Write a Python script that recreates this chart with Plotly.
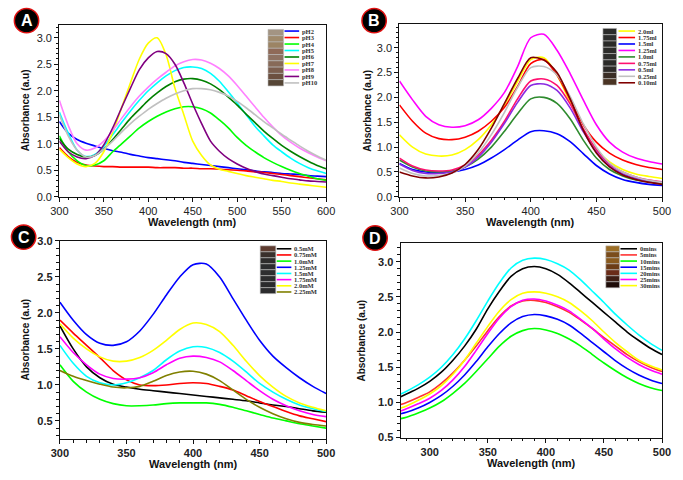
import plotly.graph_objects as go

# ---------------- Panel A data (pH) ----------------
wl_a = list(range(300, 601, 10))
ph_labels = ["pH2", "pH3", "pH4", "pH5", "pH6", "pH7", "pH8", "pH9", "pH10"]
ph2 = [1.42, 1.2, 1.08, 1.01, 0.96, 0.91, 0.87, 0.84, 0.80, 0.77, 0.74, 0.72, 0.70, 0.68, 0.65, 0.63, 0.61, 0.59, 0.57, 0.55, 0.53, 0.51, 0.49, 0.47, 0.46, 0.44, 0.43, 0.42, 0.40, 0.39, 0.38]
ph3 = [0.93, 0.76, 0.65, 0.6, 0.58, 0.57, 0.57, 0.56, 0.56, 0.56, 0.56, 0.55, 0.55, 0.55, 0.54, 0.54, 0.53, 0.53, 0.52, 0.51, 0.50, 0.49, 0.47, 0.46, 0.44, 0.42, 0.40, 0.38, 0.36, 0.34, 0.32]
ph4 = [1.15, 0.85, 0.68, 0.59, 0.6, 0.68, 0.85, 1.0, 1.15, 1.3, 1.42, 1.52, 1.6, 1.66, 1.7, 1.7, 1.66, 1.58, 1.45, 1.3, 1.12, 0.97, 0.85, 0.74, 0.65, 0.57, 0.5, 0.44, 0.39, 0.34, 0.31]
ph5 = [1.6, 1.2, 0.88, 0.76, 0.8, 0.95, 1.17, 1.4, 1.62, 1.82, 2.0, 2.15, 2.28, 2.38, 2.44, 2.45, 2.42, 2.33, 2.18, 1.98, 1.77, 1.55, 1.33, 1.15, 0.98, 0.85, 0.73, 0.63, 0.55, 0.49, 0.44]
ph6 = [1.1, 0.9, 0.8, 0.75, 0.78, 0.9, 1.08, 1.28, 1.48, 1.65, 1.82, 1.96, 2.08, 2.17, 2.22, 2.23, 2.2, 2.13, 2.02, 1.88, 1.73, 1.56, 1.4, 1.24, 1.1, 0.97, 0.86, 0.76, 0.67, 0.59, 0.53]
ph7 = [0.9, 0.74, 0.62, 0.57, 0.63, 0.85, 1.22, 1.68, 2.15, 2.6, 2.9, 3.0, 2.68, 2.05, 1.55, 1.05, 0.78, 0.6, 0.52, 0.48, 0.44, 0.4, 0.37, 0.34, 0.31, 0.29, 0.26, 0.24, 0.22, 0.2, 0.18]
ph8 = [1.82, 1.35, 1.0, 0.88, 0.92, 1.05, 1.25, 1.48, 1.7, 1.9, 2.07, 2.22, 2.35, 2.47, 2.55, 2.59, 2.58, 2.52, 2.42, 2.28, 2.1, 1.9, 1.7, 1.5, 1.32, 1.16, 1.03, 0.92, 0.83, 0.75, 0.68]
ph9 = [1.05, 0.85, 0.75, 0.72, 0.78, 0.98, 1.3, 1.68, 2.05, 2.4, 2.62, 2.74, 2.7, 2.5, 2.15, 1.75, 1.38, 1.05, 0.86, 0.72, 0.62, 0.54, 0.48, 0.43, 0.4, 0.37, 0.34, 0.32, 0.3, 0.29, 0.28]
ph10 = [1.55, 1.15, 0.88, 0.75, 0.78, 0.9, 1.05, 1.22, 1.38, 1.52, 1.65, 1.76, 1.86, 1.94, 2.0, 2.04, 2.04, 2.02, 1.97, 1.9, 1.8, 1.68, 1.55, 1.42, 1.3, 1.18, 1.07, 0.96, 0.86, 0.77, 0.69]
series_a = [ph2, ph3, ph4, ph5, ph6, ph7, ph8, ph9, ph10]
colors_a = ["#0000ff", "#ff0000", "#00ff00", "#00ffff", "#008000", "#ffff00", "#ff80ff", "#800080", "#c0c0c0"]
swatch_a = ["#a39483", "#a08a6c", "#9c8464", "#8f6a58", "#8e7262", "#876a58", "#7c5e4e", "#6c5040", "#564636"]

# ---------------- Panel B data (volume) ----------------
wl_b = list(range(300, 501, 10))
ml_labels = ["2.0ml", "1.75ml", "1.5ml", "1.25ml", "1.0ml", "0.75ml", "0.5ml", "0.25ml", "0.10ml"]
ml_200 = [1.25, 1.0, 0.86, 0.82, 0.84, 0.95, 1.15, 1.45, 1.85, 2.32, 2.76, 2.8, 2.45, 1.9, 1.35, 0.95, 0.7, 0.55, 0.46, 0.41, 0.37]
ml_175 = [1.85, 1.52, 1.28, 1.17, 1.15, 1.2, 1.32, 1.52, 1.8, 2.22, 2.68, 2.76, 2.45, 1.96, 1.45, 1.1, 0.88, 0.74, 0.65, 0.59, 0.55]
ml_150 = [0.67, 0.55, 0.5, 0.49, 0.5, 0.55, 0.64, 0.78, 0.95, 1.14, 1.31, 1.33, 1.27, 1.11, 0.87, 0.63, 0.46, 0.35, 0.29, 0.25, 0.23]
ml_125 = [2.33, 1.95, 1.62, 1.45, 1.4, 1.43, 1.55, 1.78, 2.1, 2.62, 3.2, 3.27, 2.95, 2.48, 1.95, 1.45, 1.1, 0.9, 0.78, 0.71, 0.66]
ml_100 = [0.74, 0.6, 0.52, 0.5, 0.52, 0.6, 0.76, 1.0, 1.32, 1.67, 1.97, 2.0, 1.88, 1.57, 1.14, 0.78, 0.55, 0.42, 0.34, 0.3, 0.27]
ml_075 = [0.78, 0.62, 0.54, 0.52, 0.54, 0.64, 0.84, 1.14, 1.52, 1.97, 2.33, 2.37, 2.24, 1.87, 1.37, 0.95, 0.66, 0.5, 0.4, 0.34, 0.3]
ml_050 = [0.66, 0.53, 0.47, 0.47, 0.5, 0.6, 0.8, 1.1, 1.48, 1.9, 2.24, 2.27, 2.14, 1.79, 1.31, 0.9, 0.62, 0.46, 0.37, 0.32, 0.29]
ml_025 = [0.58, 0.47, 0.42, 0.43, 0.48, 0.62, 0.88, 1.25, 1.7, 2.2, 2.6, 2.62, 2.45, 2.02, 1.47, 1.0, 0.68, 0.5, 0.4, 0.33, 0.29]
ml_010 = [0.5, 0.42, 0.38, 0.4, 0.48, 0.65, 0.95, 1.38, 1.88, 2.38, 2.8, 2.75, 2.5, 1.97, 1.34, 0.88, 0.6, 0.44, 0.35, 0.29, 0.25]
series_b = [ml_200, ml_175, ml_150, ml_125, ml_100, ml_075, ml_050, ml_025, ml_010]
colors_b = ["#ffff00", "#ff0000", "#0000ff", "#ff00ff", "#2e8b2e", "#ff1070", "#8a2be2", "#c0c0c0", "#800000"]
swatch_b = ["#2c2c2a", "#2e2e2c", "#2a2a28", "#2c2c2a", "#2e2e2c", "#2a2a28", "#2c2a28", "#3a2e26", "#4a3424"]

# ---------------- Panel C data (concentration) ----------------
wl_c = list(range(300, 501, 10))
mm_labels = ["0.5mM", "0.75mM", "1.0mM", "1.25mM", "1.5mM", "1.75mM", "2.0mM", "2.25mM"]
mm_050 = [1.82, 1.5, 1.25, 1.1, 1.01, 0.97, 0.94, 0.92, 0.9, 0.88, 0.86, 0.84, 0.82, 0.8, 0.78, 0.75, 0.72, 0.7, 0.67, 0.64, 0.62]
mm_075 = [1.9, 1.72, 1.55, 1.38, 1.2, 1.07, 1.0, 0.99, 1.0, 1.02, 1.03, 1.02, 0.98, 0.93, 0.85, 0.77, 0.7, 0.63, 0.57, 0.53, 0.49]
mm_100 = [1.28, 1.05, 0.9, 0.8, 0.74, 0.71, 0.71, 0.72, 0.74, 0.75, 0.75, 0.75, 0.73, 0.69, 0.64, 0.59, 0.54, 0.5, 0.46, 0.43, 0.4]
mm_125 = [2.15, 1.9, 1.7, 1.58, 1.55, 1.6, 1.75, 1.98, 2.25, 2.5, 2.67, 2.68, 2.5, 2.2, 1.9, 1.62, 1.4, 1.24, 1.1, 0.98, 0.88]
mm_150 = [1.55, 1.3, 1.12, 1.03, 1.0, 1.03, 1.1, 1.2, 1.35, 1.47, 1.53, 1.52, 1.45, 1.33, 1.18, 1.02, 0.9, 0.8, 0.72, 0.67, 0.63]
mm_175 = [1.67, 1.45, 1.28, 1.15, 1.09, 1.08, 1.1, 1.17, 1.28, 1.37, 1.4, 1.38, 1.32, 1.2, 1.06, 0.92, 0.8, 0.71, 0.64, 0.59, 0.56]
mm_200 = [1.85, 1.65, 1.5, 1.39, 1.33, 1.33, 1.38, 1.48, 1.62, 1.77, 1.86, 1.84, 1.74, 1.55, 1.33, 1.13, 0.97, 0.84, 0.75, 0.69, 0.64]
mm_225 = [1.2, 1.12, 1.06, 1.01, 0.97, 0.96, 0.98, 1.05, 1.13, 1.18, 1.19, 1.15, 1.06, 0.93, 0.8, 0.69, 0.6, 0.53, 0.48, 0.45, 0.43]
series_c = [mm_050, mm_075, mm_100, mm_125, mm_150, mm_175, mm_200, mm_225]
colors_c = ["#000000", "#ff0000", "#00ff00", "#0000ff", "#00ffff", "#ff00ff", "#ffff00", "#808000"]
swatch_c = ["#5e3c30", "#3a302c", "#2e2c2c", "#2c2c2e", "#2e2e30", "#2c2c2e", "#2a2a2c", "#2c2c2e"]

# ---------------- Panel D data (time) ----------------
wl_d = [275, 280, 290, 300, 310, 320, 330, 340, 350, 360, 370, 380, 390, 400, 410, 420, 430, 440, 450, 460, 470, 480, 490, 500]
min_labels = ["0mins", "5mins", "10mins", "15mins", "20mins", "25mins", "30mins"]
t_00 = [1.08, 1.12, 1.2, 1.3, 1.43, 1.6, 1.8, 2.04, 2.33, 2.58, 2.79, 2.9, 2.93, 2.9, 2.82, 2.7, 2.56, 2.42, 2.28, 2.14, 2.0, 1.88, 1.77, 1.68]
t_05 = [0.97, 1.0, 1.07, 1.15, 1.27, 1.42, 1.6, 1.8, 2.02, 2.22, 2.37, 2.44, 2.45, 2.42, 2.36, 2.28, 2.17, 2.05, 1.92, 1.8, 1.68, 1.58, 1.5, 1.44]
t_10 = [0.77, 0.79, 0.85, 0.92, 1.01, 1.13, 1.27, 1.44, 1.62, 1.8, 1.94, 2.02, 2.05, 2.03, 1.98, 1.9, 1.8, 1.68, 1.56, 1.45, 1.35, 1.27, 1.21, 1.17]
t_15 = [0.84, 0.86, 0.92, 1.0, 1.1, 1.23, 1.39, 1.58, 1.79, 1.98, 2.13, 2.22, 2.25, 2.23, 2.18, 2.1, 1.98, 1.85, 1.72, 1.59, 1.48, 1.39, 1.32, 1.27]
t_20 = [1.12, 1.16, 1.25, 1.36, 1.5, 1.68, 1.9, 2.16, 2.44, 2.7, 2.91, 3.02, 3.05, 3.03, 2.97, 2.88, 2.74, 2.58, 2.42, 2.25, 2.1, 1.96, 1.84, 1.74]
t_25 = [0.88, 0.91, 0.98, 1.06, 1.17, 1.32, 1.51, 1.74, 1.98, 2.2, 2.36, 2.45, 2.47, 2.44, 2.38, 2.3, 2.18, 2.05, 1.9, 1.76, 1.64, 1.54, 1.46, 1.4]
t_30 = [0.92, 0.95, 1.03, 1.12, 1.24, 1.4, 1.6, 1.84, 2.08, 2.3, 2.46, 2.55, 2.57, 2.55, 2.5, 2.42, 2.3, 2.16, 2.0, 1.85, 1.72, 1.6, 1.52, 1.46]
series_d = [t_00, t_05, t_10, t_15, t_20, t_25, t_30]
colors_d = ["#000000", "#ff3333", "#00ff00", "#0000ff", "#00ffff", "#ff00ff", "#ffff00"]
swatch_d = ["#9c6e26", "#7a4c1c", "#8a5a1e", "#6c3c16", "#6a2c18", "#3e1e14", "#1e0c08"]

W, H = 683, 480
FONT = "Arial, Liberation Sans, sans-serif"

# panel geometry in pixels: (left, right, top, bottom)
panels = {
    "A": dict(px=(51.7, 325.7, 19.0, 195.7), xr=[300, 600], yr=[0, 3.25], xt=50, yt=0.5, bold=False),
    "B": dict(px=(401.0, 670.7, 18.3, 195.7), xr=[300, 500], yr=[0, 3.48], xt=50, yt=0.5, bold=False),
    "C": dict(px=(52.3, 325.7, 241.0, 444.0), xr=[300, 500], yr=[0.25, 3.0], xt=50, yt=0.5, bold=True),
    "D": dict(px=(402.3, 670.7, 242.7, 442.7), xr=[275, 500], yr=[0.5, 3.27], xt=50, yt=0.5, bold=True),
}

fig = go.Figure()

def add_series(xs, series, names, colors, idx):
    ax = "" if idx == 1 else str(idx)
    for ys, nm, col in zip(series, names, colors):
        fig.add_trace(go.Scatter(x=xs, y=ys, name=nm, mode="lines",
                                 line=dict(color=col, width=1.6, shape="spline", smoothing=0.8),
                                 xaxis="x" + ax, yaxis="y" + ax, showlegend=False))

add_series(wl_a, series_a, ph_labels, colors_a, 1)
add_series(wl_b, series_b, ml_labels, colors_b, 2)
add_series(wl_c, series_c, mm_labels, colors_c, 3)
add_series(wl_d, series_d, min_labels, colors_d, 4)

layout = dict(width=W, height=H, margin=dict(l=0, r=0, t=0, b=0),
              paper_bgcolor="white", plot_bgcolor="white",
              font=dict(family=FONT, color="#222"))
annotations = []
shapes = []

for i, (key, p) in enumerate(panels.items(), start=1):
    l, r, t, b = p["px"]
    ax = "" if i == 1 else str(i)
    tf = dict(family=FONT, size=11, color="#222", weight="bold" if p["bold"] else "normal")
    common = dict(showline=True, linecolor="#111", linewidth=1.3, mirror=True,
                  ticks="outside", ticklen=4, tickwidth=1.2, tickcolor="#111",
                  showgrid=False, zeroline=False, tickfont=tf,
                  minor=dict(ticks="outside", ticklen=2.5, tickwidth=1, tickcolor="#111"))
    layout["xaxis" + ax] = dict(domain=[l / W, r / W], range=p["xr"], anchor="y" + ax,
                                dtick=p["xt"], tick0=0, **common)
    layout["yaxis" + ax] = dict(domain=[1 - b / H, 1 - t / H], range=p["yr"], anchor="x" + ax,
                                dtick=p["yt"], tick0=0, tickformat=".1f", **common)
    # axis titles
    annotations.append(dict(text="<b>Wavelength (nm)</b>", x=(l + r) / 2 / W, y=1 - (b + 26) / H,
                            xref="paper", yref="paper", showarrow=False,
                            font=dict(size=11, family=FONT, color="#111"),
                            xanchor="center", yanchor="middle"))
    yt_x = {"A": 17, "B": 368, "C": 17, "D": 362}[key]
    annotations.append(dict(text="<b>Absorbance (a.u)</b>", x=yt_x / W, y=1 - (t + b) / 2 / H,
                            xref="paper", yref="paper", showarrow=False, textangle=-90,
                            font=dict(size=10, family=FONT, color="#111"),
                            xanchor="center", yanchor="middle"))

# panel letters
letters = {"A": (18, 15), "B": (375, 15), "C": (15, 237), "D": (376, 238)}
for k, (cx, cy) in letters.items():
    rr = 12.5
    shapes.append(dict(type="circle", xref="paper", yref="paper",
                       x0=(cx - rr) / W, x1=(cx + rr) / W, y0=1 - (cy + rr) / H, y1=1 - (cy - rr) / H,
                       fillcolor="#000", line=dict(color="#e01010", width=1.5)))
    annotations.append(dict(text="<b>%s</b>" % k, x=cx / W, y=1 - cy / H, xref="paper", yref="paper",
                            showarrow=False, font=dict(size=16, color="white", family=FONT),
                            xanchor="center", yanchor="middle"))

# custom legends: (swatch x0, x1, top, bottom, line x0, x1, first y, step)
legends = [
    (ph_labels, colors_a, swatch_a, (266, 282, 24, 82, 283, 298, 25.7, 6.65)),
    (ml_labels, colors_b, swatch_b, (610, 624, 23, 81, 626, 643, 25.7, 6.63)),
    (mm_labels, colors_c, swatch_c, (258, 274, 246, 295, 275, 290, 249, 6.33)),
    (min_labels, colors_d, swatch_d, (613, 627, 246, 289, 628, 645, 249, 6.3)),
]
for names, cols, sw, (sx0, sx1, st, sb, lx0, lx1, y0, step) in legends:
    n = len(sw)
    h = (sb - st) / n
    for j, c in enumerate(sw):
        shapes.append(dict(type="rect", xref="paper", yref="paper", x0=sx0 / W, x1=sx1 / W,
                           y0=1 - (st + (j + 1) * h) / H, y1=1 - (st + j * h) / H,
                           fillcolor=c, line=dict(width=0.6, color="#bbb")))
    for j, (nm, c) in enumerate(zip(names, cols)):
        yy = y0 + j * step
        shapes.append(dict(type="line", xref="paper", yref="paper", x0=lx0 / W, x1=lx1 / W,
                           y0=1 - yy / H, y1=1 - yy / H, line=dict(color=c, width=1.6)))
        annotations.append(dict(text="<b>%s</b>" % nm, x=(lx1 + 1) / W, y=1 - yy / H,
                                xref="paper", yref="paper", showarrow=False, xanchor="left",
                                yanchor="middle",
                                font=dict(size=6.5, color="#333", family="Liberation Serif, Times New Roman, serif")))

layout["annotations"] = annotations
layout["shapes"] = shapes
fig.update_layout(**layout)
fig.write_html("out.html", config={"displayModeBar": False},
               post_script="document.body.style.margin='0';")
